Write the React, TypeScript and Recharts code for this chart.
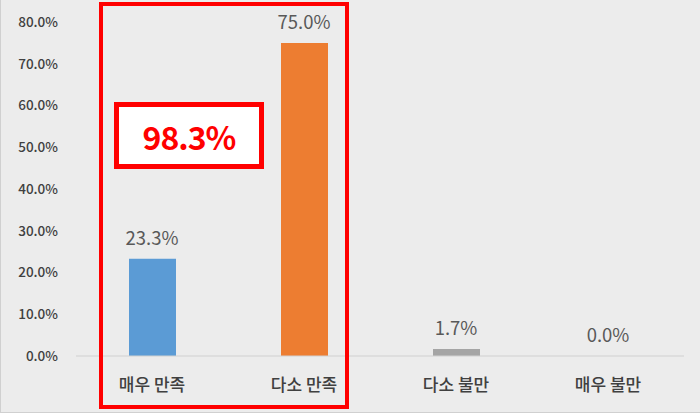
import { ComposedChart, Bar, Line, XAxis, YAxis, Cell, LabelList } from "recharts";

const categories = ["매우 만족", "다소 만족", "다소 불만", "매우 불만"];
const shares = [23.3, 75.0, 1.7, 0.0];
const barColors = ["#5b9bd5", "#ed7d31", "#a5a5a5", "#ffc000"];
const yTicks = [0, 10, 20, 30, 40, 50, 60, 70, 80];
const highlightTotal = "98.3%";

const data = categories.map((name, i) => ({ name, value: shares[i] }));

const FONT = "'Noto Sans CJK KR', 'Noto Sans', sans-serif";

export default function App() {
    return (
        <div
            style={{
                position: "absolute",
                left: 0,
                top: 0,
                width: 700,
                height: 413,
                background: "#ececec",
                fontFamily: FONT,
                boxSizing: "border-box",
                borderLeft: "1px solid #d0d0d0",
                borderBottom: "1px solid #d0d0d0",
            }}
        >
            <ComposedChart
                width={700}
                height={413}
                data={data}
                margin={{ top: 22, right: 16, left: 0, bottom: 17 }}
                style={{ position: "absolute", left: -1, top: 0 }}
            >
                <XAxis
                    dataKey="name"
                    axisLine={{ stroke: "#d0d0d0", strokeWidth: 1 }}
                    tickLine={false}
                    tickMargin={17}
                    height={40}
                    interval={0}
                    tick={{ fontSize: 17, fill: "#404040", fontWeight: 500, fontFamily: FONT }}
                />
                <YAxis
                    width={76}
                    domain={[0, 80]}
                    ticks={yTicks}
                    axisLine={false}
                    tickLine={false}
                    tickSize={0}
                    tickMargin={18}
                    tickFormatter={(v: number) => v.toFixed(1) + "%"}
                    tick={{ fontSize: 13.5, fill: "#404040", fontWeight: 500, fontFamily: FONT }}
                />
                <Bar dataKey="value" barSize={47} isAnimationActive={false}>
                    {data.map((d, i) => (
                        <Cell key={d.name} fill={barColors[i]} />
                    ))}
                </Bar>
                {/* invisible series only to place the value labels, including the 0.0% one */}
                <Line
                    dataKey="value"
                    stroke="none"
                    dot={false}
                    activeDot={false}
                    isAnimationActive={false}
                >
                    <LabelList
                        dataKey="value"
                        position="top"
                        offset={14}
                        formatter={(v: any) => Number(v).toFixed(1) + "%"}
                        style={{ fontSize: 18.5, fill: "#595959", fontFamily: FONT }}
                    />
                </Line>
            </ComposedChart>

            {/* highlight box around the satisfied categories */}
            <div
                style={{
                    position: "absolute",
                    left: 98,
                    top: 2,
                    width: 250,
                    height: 407,
                    border: "4px solid #ff0000",
                    boxSizing: "border-box",
                    pointerEvents: "none",
                }}
            />
            <div
                style={{
                    position: "absolute",
                    left: 113,
                    top: 102,
                    width: 150,
                    height: 67,
                    border: "5px solid #ff0000",
                    background: "#ffffff",
                    boxSizing: "border-box",
                    display: "flex",
                    alignItems: "center",
                    justifyContent: "center",
                    color: "#ff0000",
                    fontWeight: 700,
                    fontSize: 32,
                    letterSpacing: -1,
                    fontFamily: FONT,
                }}
            >
                {highlightTotal}
            </div>
        </div>
    );
}
